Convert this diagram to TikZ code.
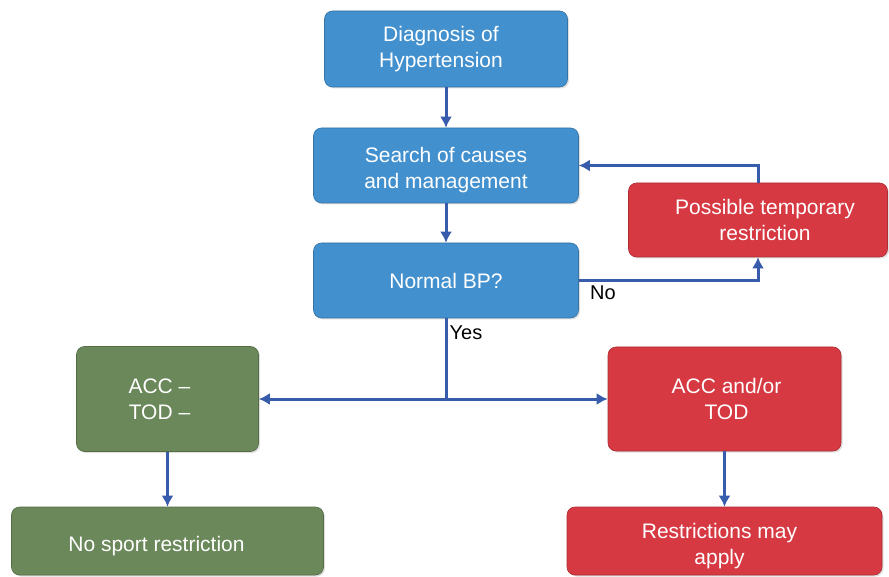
\documentclass[tikz,border=0pt]{standalone}
\usepackage{fontspec}
\setmainfont{Liberation Sans}
\usepackage{xcolor}
\usetikzlibrary{arrows.meta}
\usetikzlibrary{shadows}
\definecolor{myblue}{RGB}{66, 144, 206}
\definecolor{myred}{RGB}{214, 57, 66}
\definecolor{mygreen}{RGB}{106, 136, 89}
\definecolor{flowblue}{RGB}{56, 92, 172}

\newcommand{\dn}[1]{\raisebox{-5pt}[\height][\depth]{#1}}

\tikzset{
box/.style={rounded corners=8pt, draw=#1!80!black, fill=#1, text=white, align=center, inner sep=0pt, line width=0.6pt, font=\fontsize{21}{26}\selectfont, drop shadow={opacity=0.25, shadow xshift=1.5pt, shadow yshift=-1.5pt}},
flow/.style={-{Latex[length=11pt,width=12pt]}, line width=3pt, draw=flowblue},
lbl/.style={font=\fontsize{20}{24}\selectfont, inner sep=0pt}
}

\begin{document}
\begin{tikzpicture}[x=1pt, y=-1pt]
\useasboundingbox (0,0) rectangle (889,577);

\node[box=myblue, minimum width=243, minimum height=76] (diag) at (446,49) {\hspace*{-10pt}Diagnosis of\\\hspace*{-10pt}Hypertension};
\node[box=myblue, minimum width=265, minimum height=75] (search) at (446,165.5) {\dn{Search of causes}\\\dn{and management}};
\node[box=myblue, minimum width=265, minimum height=75] (normal) at (446,280.5) {Normal BP?};
\node[box=myred, minimum width=259, minimum height=74] (temp) at (758,220) {\hspace*{14pt}Possible temporary\\\hspace*{14pt}restriction};

\node[box=mygreen, minimum width=182, minimum height=105] (accneg) at (167.5,399) {\hspace*{-16pt}ACC --\\\hspace*{-16pt}TOD --};
\node[box=myred, minimum width=233, minimum height=104] (accpos) at (724.5,399) {\hspace*{4pt}ACC and/or\\\hspace*{4pt}TOD};
\node[box=mygreen, minimum width=312, minimum height=68] (nosport) at (167.5,541) {\hspace*{-22pt}\dn{No sport restriction}};
\node[box=myred, minimum width=315, minimum height=68] (restr) at (724.5,541) {\hspace*{-10pt}\dn{Restrictions may}\\\hspace*{-10pt}\dn{apply}};

\draw[flow] (diag) -- (search);
\draw[flow] (search) -- (normal);
\draw[flow] (normal.east) -| (temp.south);
\draw[flow] (temp.north) |- (search.east);
\draw[flow] (normal.south) |- (accneg.east);
\draw[flow] (normal.south) |- (accpos.west);
\draw[flow] (accneg) -- (nosport);
\draw[flow] (accpos) -- (restr);

\node[lbl] (no) at (603,293) {No};
\node[lbl] (yes) at (466,333) {Yes};
\end{tikzpicture}
\end{document}
